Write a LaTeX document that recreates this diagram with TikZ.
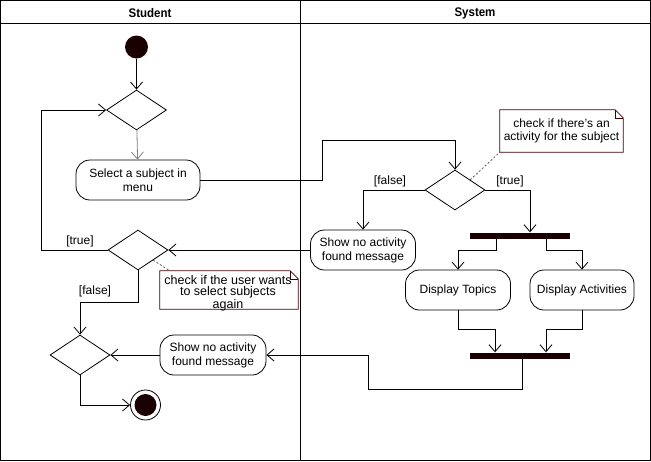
\documentclass[tikz,border=0pt]{standalone}
\usepackage{fontspec}
\setmainfont{Liberation Sans}
\newfontfamily\headfont[FakeStretch=0.92]{Liberation Sans}
\usetikzlibrary{shapes.geometric,arrows.meta,calc}
\definecolor{ink}{RGB}{26,0,0}
\definecolor{notebd}{RGB}{64,0,0}
\definecolor{wire}{RGB}{128,128,128}
\definecolor{dotted}{RGB}{90,90,90}
\begin{document}
\begin{tikzpicture}[x=1pt,y=-1pt,
  font=\fontsize{12}{14}\selectfont,
  flow/.style={draw=black, line width=0.8pt, -{Straight Barb[length=7pt,width=12pt]}},
  action/.style={draw=black, rounded corners=14pt, line width=0.8pt, align=center, inner sep=0pt, minimum height=40pt},
  decision/.style={draw=black, diamond, aspect=1.5, minimum width=60pt, minimum height=40pt, inner sep=0pt, line width=0.8pt},
  forkbar/.style={fill=ink, minimum width=100pt, minimum height=6pt, inner sep=0pt},
  notetext/.style={align=center, inner sep=0pt},
  notebox/.style={inner sep=0pt},
  guard/.style={inner sep=0pt},
  link/.style={draw=dotted, line width=0.8pt, dash pattern=on 2pt off 2pt},
  lanehead/.style={font=\headfont\bfseries\fontsize{12.5}{14}\selectfont, inner sep=0pt},
]
\useasboundingbox (0,0) rectangle (651,461);

% swimlanes
\draw[line width=0.8pt] (0.5,0.5) rectangle (650.5,460.5);
\draw[line width=0.8pt] (0.5,23) -- (650.5,23);
\draw[line width=0.8pt] (300.5,0.5) -- (300.5,460.5);
\node[lanehead] (hstudent) at (150,13) {Student};
\node[lanehead] (hsystem) at (475,13) {System};

% Student lane
\node[circle, fill=ink, minimum size=23pt, inner sep=0pt] (start) at (136.5,47) {};
\node[decision] (d1) at (136.5,110) {};
\node[action, minimum width=124pt] (sel) at (138,180) {Select a subject in\\menu};
\node[decision] (d2) at (138,250) {};
\node[decision] (d4) at (80,355) {};
\node[action, minimum width=106pt] (ss) at (213,355) {Show no activity\\found message};
\node[circle, draw=black, fill=white, line width=0.8pt, minimum size=30pt, inner sep=0pt] (stop) at (145.5,405) {};
\fill[ink] (stop.center) circle (11);

% System lane
\node[decision] (d3) at (455,190) {};
\node[action, minimum width=105pt] (sf) at (363,250) {Show no activity\\found message};
\node[forkbar] (bar1) at (520,235.5) {};
\node[action, minimum width=105pt] (dt) at (458,290) {Display Topics};
\node[action, minimum width=104pt] (da) at (582,290) {Display Activities};
\node[forkbar] (bar2) at (520,355.5) {};

% notes with folded corner
\node[notebox, minimum width=123pt, minimum height=42pt] (n1) at (561.5,131) {};
\draw[notebd, line width=0.8pt] (n1.south west) -- (n1.north west) -- ($(n1.north east)+(-8,0)$) -- ($(n1.north east)+(0,8)$) -- (n1.south east) -- cycle;
\draw[notebd, line width=0.6pt] ($(n1.north east)+(-8,0)$) -- ($(n1.north east)+(-8,8)$) -- ($(n1.north east)+(0,8)$);
\node[notetext, font=\fontsize{12}{13}\selectfont] (t1) at (561.5,131) {check if there's an\\activity for the subject};

\node[notebox, minimum width=138pt, minimum height=38pt] (n2) at (229,290) {};
\draw[notebd, line width=0.8pt] (n2.south west) -- (n2.north west) -- ($(n2.north east)+(-8,0)$) -- ($(n2.north east)+(0,8)$) -- (n2.south east) -- cycle;
\draw[notebd, line width=0.6pt] ($(n2.north east)+(-8,0)$) -- ($(n2.north east)+(-8,8)$) -- ($(n2.north east)+(0,8)$);
\node[notetext, font=\fontsize{12.5}{11.5}\selectfont] (t2) at (228,293) {check if the user wants\\to select subjects\\again};

\draw[link] ($(d3.north)!0.5!(d3.east)$) -- (n1.south west);
\draw[link] ($(d2.east)!0.5!(d2.south)$) -- ($(n2.north west)+(10,0)$);

% control flow
\draw[flow] (start) -- (d1);
\draw[flow, draw=wire] (d1) -- (sel);
\draw[flow] (sel.east) -| (322,140) -| (d3.north);
\draw[flow] (d3.west) -| (sf.north);
\node[guard] (gf1) at (390,181) {[false]};
\draw[flow] (d3.east) -| ($(bar1.north)+(10,0)$);
\node[guard] (gt1) at (510,181) {[true]};

\draw[flow] ($(bar1.south)+(-24,0)$) -- ++(0,12) -| (dt.north);
\draw[flow] ($(bar1.south)+(26,0)$) -- ++(0,12) -| (da.north);
\draw[flow] (dt.south) -- ++(0,19) -| ($(bar2.north)+(-25,0)$);
\draw[flow] (da.south) -- ++(0,19) -| ($(bar2.north)+(26,0)$);
\draw[flow] ($(bar2.south)+(2,0)$) -- ++(0,31) -| (368,355) -- (ss.east);

\draw[flow] (sf.west) -- (d2.east);
\draw[flow] (d2.west) -- (41,250) |- (d1.west);
\node[guard] (gt2) at (80,241) {[true]};
\draw[flow] (d2.south) -- ++(0,32) -| (d4.north);
\node[guard] (gf2) at (95,291) {[false]};
\draw[flow] (ss.west) -- (d4.east);
\draw[flow] (d4.south) |- (stop.west);
\end{tikzpicture}
\end{document}
